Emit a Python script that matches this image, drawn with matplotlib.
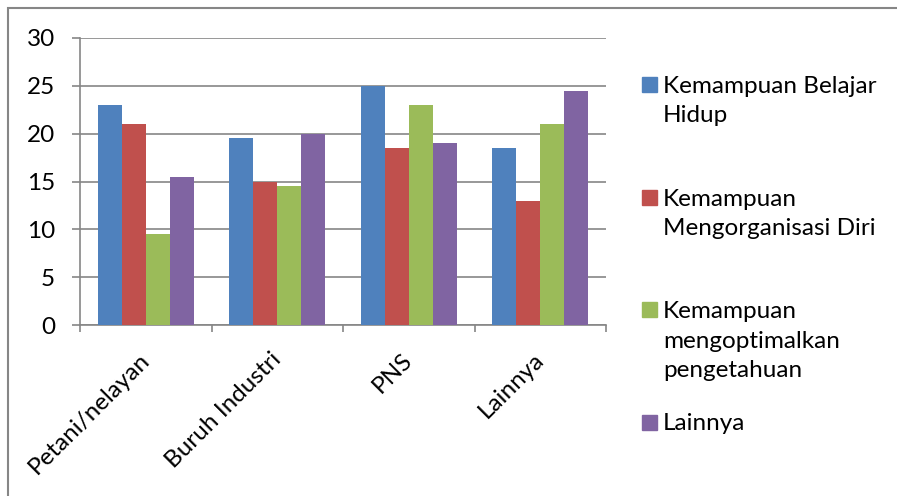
import numpy as np
import matplotlib.pyplot as plt
import matplotlib.transforms as mtransforms
from matplotlib.patches import Rectangle

# data
categories = ['Petani/nelayan', 'Buruh Industri', 'PNS', 'Lainnya']
series_names = ['Kemampuan Belajar\nHidup',
                'Kemampuan\nMengorganisasi Diri',
                'Kemampuan\nmengoptimalkan\npengetahuan',
                'Lainnya']
belajar_hidup = [23, 19.5, 25, 18.5]
organisasi_diri = [21, 15, 18.5, 13]
optimal_pengetahuan = [9.5, 14.5, 23, 21]
lainnya = [15.5, 20, 19, 24.5]
colors = ['#4F81BD', '#C0504D', '#9BBB59', '#8064A2']

plt.rcParams['font.family'] = ['Lato', 'DejaVu Sans']
W, H = 897, 496
FS = 17.5
fig = plt.figure(figsize=(W / 100, H / 100), dpi=100)
ax = fig.add_axes([80 / W, 1 - 325 / H, 526 / W, 287 / H])

grid_c = '#868686'
all_series = [belajar_hidup, organisasi_diri, optimal_pengetahuan, lainnya]
x = np.arange(len(categories))
bw = 1 / 5.5
for i, vals in enumerate(all_series):
    ax.bar(x + (i - 1.5) * bw, vals, width=bw, color=colors[i], linewidth=0, zorder=3)

ax.set_xlim(-0.5, len(categories) - 0.5)
ax.set_ylim(0, 30)
ax.set_yticks(range(0, 31, 5))
ax.yaxis.grid(True, color=grid_c, linewidth=1.2, zorder=0)
for s in ['top', 'right']:
    ax.spines[s].set_visible(False)
for s in ['left', 'bottom']:
    ax.spines[s].set_color(grid_c)
    ax.spines[s].set_linewidth(1.2)

ax.tick_params(axis='y', length=6, width=1.2, color=grid_c, pad=12, labelsize=FS)
ax.set_xticks(x)
ax.set_xticklabels(categories, rotation=45, ha='right', va='top', rotation_mode='anchor')
ax.tick_params(axis='x', which='major', length=0, pad=20, labelsize=FS)
ax.set_xticks(np.arange(-0.5, len(categories)), minor=True)
ax.tick_params(axis='x', which='minor', length=5, width=1.2, color=grid_c)
shift = mtransforms.ScaledTranslation(-7 / 100, 4 / 100, fig.dpi_scale_trans)
for lab in ax.get_xticklabels():
    lab.set_transform(lab.get_transform() + shift)

# manual legend, equal slots like the original
for i, name in enumerate(series_names):
    top = 77 + i * 112.5
    fig.patches.append(Rectangle((642 / W, 1 - (top + 15) / H), 15 / W, 15 / H,
                                 transform=fig.transFigure, color=colors[i]))
    fig.text(663 / W, 1 - (top - 1) / H, name, fontsize=FS, va='top', ha='left',
             linespacing=1.5)

# chart border
fig.patches.append(Rectangle((8 / W, -0.1), 1.2, 1.1 - 8 / H, transform=fig.transFigure,
                             fill=False, edgecolor=grid_c, linewidth=1.5))

fig.savefig('out.png', dpi=100)
